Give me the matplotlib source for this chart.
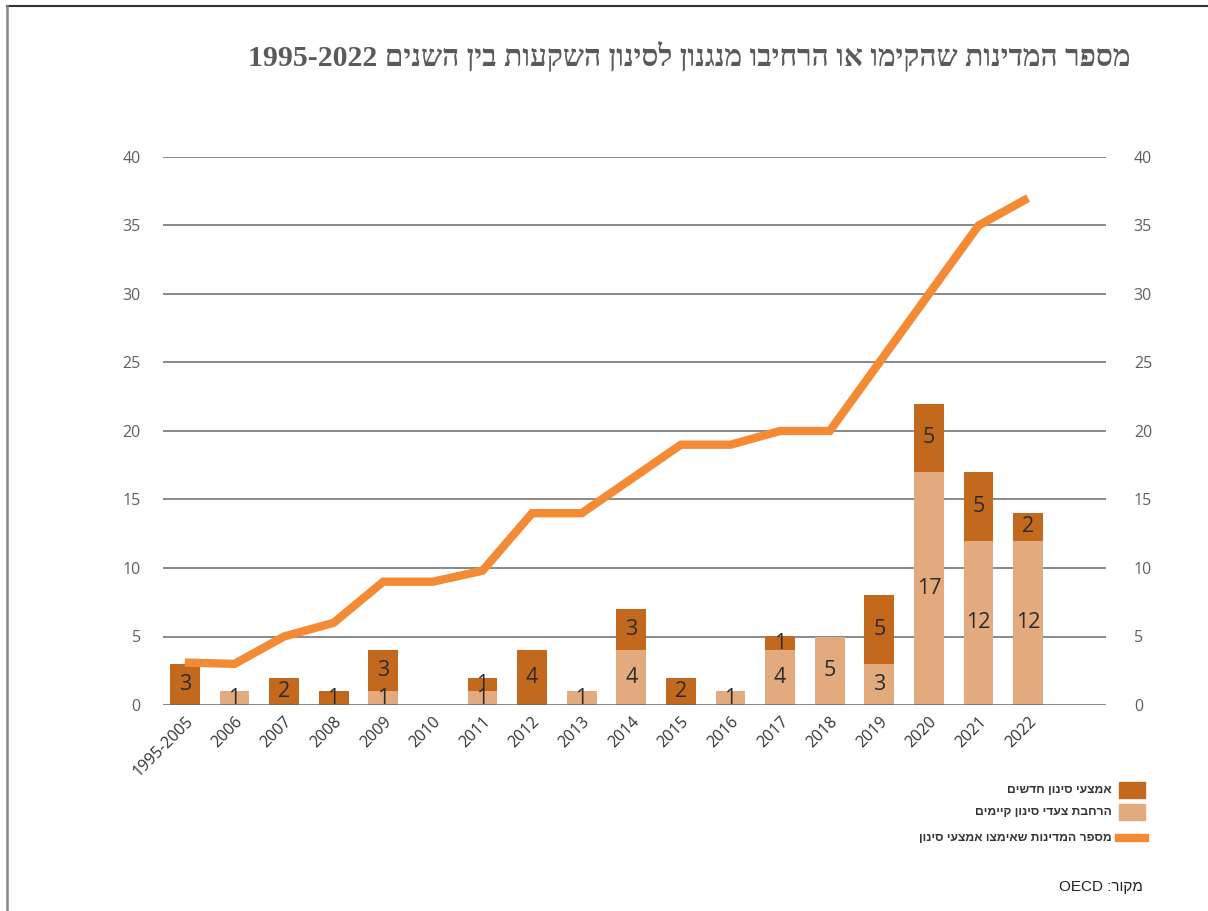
import re
import matplotlib
matplotlib.use("Agg")
import matplotlib.pyplot as plt
from matplotlib.patches import Rectangle
from matplotlib.lines import Line2D

def vis(s):
    # simple RTL -> visual order conversion for Hebrew with LTR runs
    r = s[::-1]
    return re.sub(r"[0-9A-Za-z][0-9A-Za-z\-\.]*[0-9A-Za-z]|[0-9A-Za-z]", lambda m: m.group(0)[::-1], r)

years = ["1995-2005", "2006", "2007", "2008", "2009", "2010", "2011", "2012", "2013",
         "2014", "2015", "2016", "2017", "2018", "2019", "2020", "2021", "2022"]
new_mech = [3, 0, 2, 1, 3, 0, 1, 4, 0, 3, 2, 0, 1, 0, 5, 5, 5, 2]
expanded = [0, 1, 0, 0, 1, 0, 1, 0, 1, 4, 0, 1, 4, 5, 3, 17, 12, 12]
countries = [3.1, 3, 5, 6, 9, 9, 9.8, 14, 14, 16.5, 19, 19, 20, 20, 25, 30, 35, 37]
yticks = [0, 5, 10, 15, 20, 25, 30, 35, 40]

title = "מספר המדינות שהקימו או הרחיבו מנגנון לסינון השקעות בין השנים 1995-2022"
leg_new = "אמצעי סינון חדשים"
leg_exp = "הרחבת צעדי סינון קיימים"
leg_line = "מספר המדינות שאימצו אמצעי סינון"
source = "מקור: OECD"

C_NEW = "#C2691E"
C_EXP = "#E3AA7E"
C_LINE = "#F58A35"

W, H = 1208, 911
fig = plt.figure(figsize=(W / 100, H / 100), dpi=100)
ax = fig.add_axes([163 / W, 1 - 705 / H, (1106 - 163) / W, (705 - 157) / H])

x = list(range(len(years)))
ax.bar(x, expanded, width=0.6, color=C_EXP, zorder=3)
ax.bar(x, new_mech, width=0.6, bottom=expanded, color=C_NEW, zorder=3)
ax.plot(x, countries, color=C_LINE, lw=6, zorder=4, solid_joinstyle="miter", solid_capstyle="butt")

for xi, e, n in zip(x, expanded, new_mech):
    if e > 0:
        ax.text(xi, e / 2, str(e), ha="center", va="center", fontsize=15.5,
                color="#2b2b2b", zorder=5, family="Open Sans")
    if n > 0:
        ax.text(xi, e + n / 2, str(n), ha="center", va="center", fontsize=15.5,
                color="#2b2b2b", zorder=5, family="Open Sans")

ax.set_ylim(0, 40)
ax.set_xlim(-0.44, 18.57)
ax.set_yticks(yticks)
for t in yticks[1:]:
    ax.axhline(t, color="#808080", lw=1.3, zorder=1)
ax.axhline(0, color="#666666", lw=1.8, zorder=6)
for s in ax.spines.values():
    s.set_visible(False)
ax.tick_params(axis="both", length=0)
ax.set_yticklabels([str(t) for t in yticks], family="Open Sans", fontsize=11.5, color="#606060")
ax.tick_params(axis="y", pad=16)
ax.set_xticks(x)
ax.set_xticklabels(years, rotation=45, ha="right", rotation_mode="anchor",
                   fontsize=11.5, color="#333333", family="Open Sans")
ax.tick_params(axis="x", pad=6)

ax2 = ax.twinx()
ax2.set_ylim(0, 40)
ax2.set_yticks(yticks)
ax2.set_yticklabels([str(t) for t in yticks], family="Open Sans", fontsize=11.5, color="#606060")
ax2.tick_params(axis="y", length=0, pad=20)
for s in ax2.spines.values():
    s.set_visible(False)

# title
fig.text(1131 / W, 1 - 56 / H, vis(title), ha="right", va="center", fontsize=21.5,
         fontweight="bold", color="#5a5a5a", family="Liberation Serif")

# legend (manual, RTL)
items = [(790, leg_new, "patch", C_NEW), (812, leg_exp, "patch", C_EXP), (838, leg_line, "line", C_LINE)]
for yc, lab, kind, col in items:
    if kind == "patch":
        fig.patches.append(Rectangle((1119 / W, 1 - (yc + 8) / H), 26 / W, 16 / H,
                                     transform=fig.transFigure, color=col))
    else:
        fig.lines.append(Line2D([1119 / W, 1145 / W], [1 - yc / H, 1 - yc / H],
                                transform=fig.transFigure, color=col, lw=6))
    fig.text(1112 / W, 1 - yc / H, vis(lab), ha="right", va="center", fontsize=8.7,
             color="#333333", fontweight="bold", family="Liberation Sans")

fig.text(1143 / W, 1 - 887 / H, vis(source), ha="right", va="center", fontsize=11,
         color="#222222", family="Liberation Sans")

# frame
fig.lines.append(Line2D([7 / W, 1], [1 - 6 / H, 1 - 6 / H], transform=fig.transFigure,
                        color="#333333", lw=1.5))
fig.lines.append(Line2D([7 / W, 7 / W], [0, 1 - 6 / H], transform=fig.transFigure,
                        color="#888888", lw=1.8))

fig.savefig("out.png", dpi=100)
